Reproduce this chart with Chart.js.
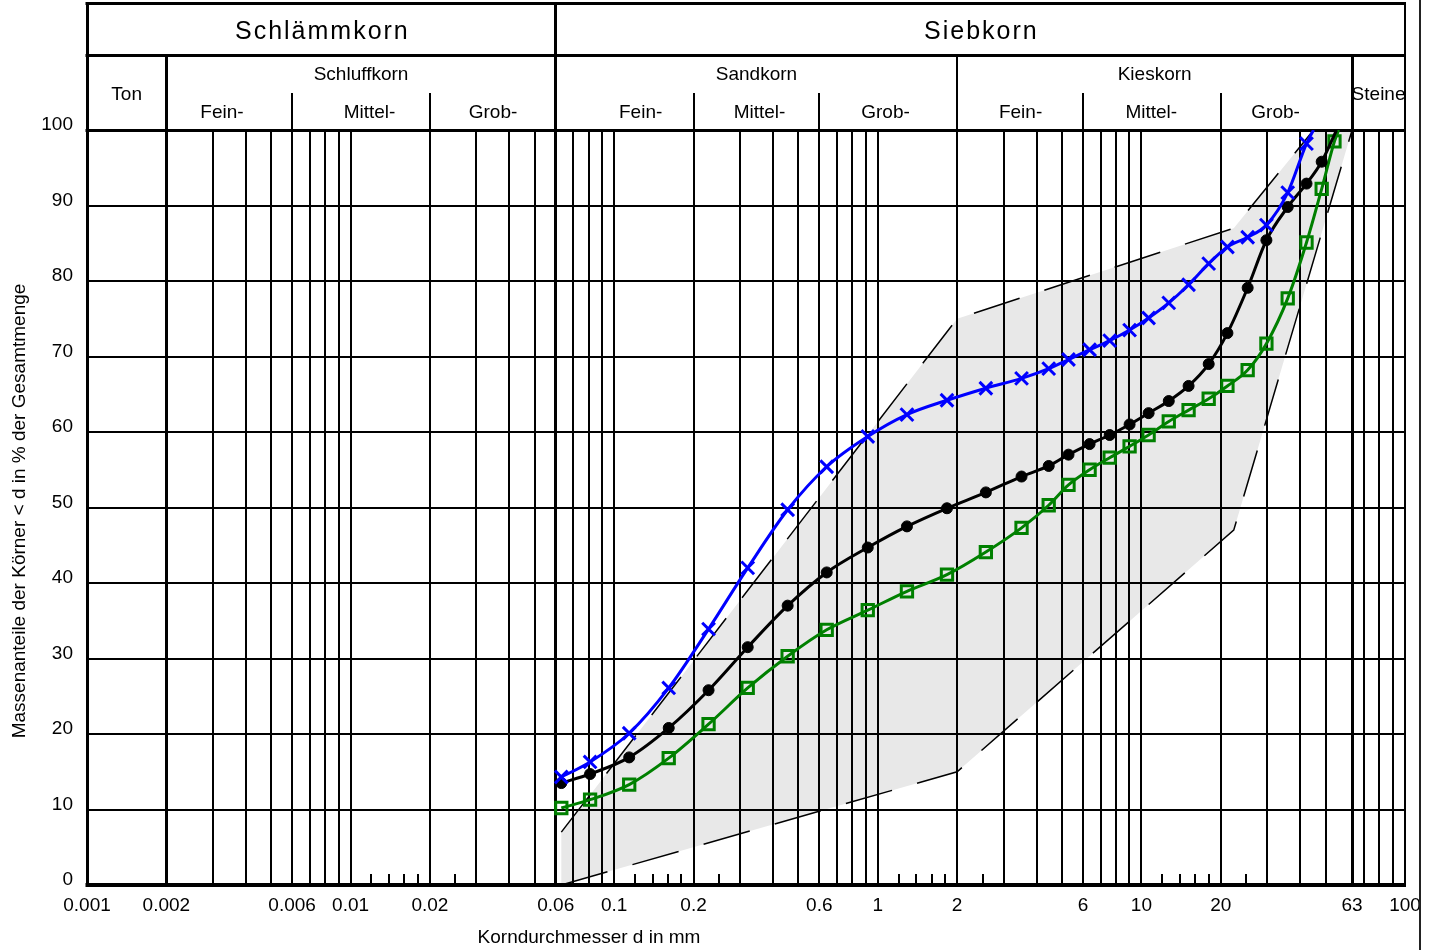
<!DOCTYPE html>
<html>
<head>
<meta charset="utf-8">
<title>Körnungslinie</title>
<script src="https://cdn.jsdelivr.net/npm/chart.js@4.4.1/dist/chart.umd.min.js"></script>
<style>
  html, body { margin: 0; padding: 0; background: #ffffff; }
  #wrap { position: relative; width: 1437px; height: 950px; }
  canvas { display: block; }
</style>
</head>
<body>
<div id="wrap"><canvas id="chart" width="1437" height="950"></canvas></div>
<script>
// ---- Sieve curves: grain size d in mm and percent passing ----
const grainBlue  = [0.063, 0.081, 0.114, 0.161, 0.228, 0.321, 0.455, 0.64, 0.916, 1.29, 1.83, 2.57, 3.51, 4.45, 5.29, 6.36, 7.58, 9.02, 10.65, 12.7, 15.1, 18.0, 21.2, 25.3, 29.8, 35.9, 42.3, 45.0];
const passBlue   = [14.3, 16.3, 20.1, 26.1, 33.9, 42.0, 49.7, 55.4, 59.4, 62.3, 64.2, 65.8, 67.1, 68.4, 69.6, 70.9, 72.1, 73.5, 75.1, 77.1, 79.5, 82.3, 84.5, 85.8, 87.4, 91.7, 98.2, 100];

const grainBlack = [0.063, 0.081, 0.114, 0.161, 0.228, 0.321, 0.455, 0.64, 0.916, 1.29, 1.83, 2.57, 3.51, 4.45, 5.29, 6.36, 7.58, 9.02, 10.65, 12.7, 15.1, 18.0, 21.2, 25.3, 29.8, 35.9, 42.3, 48.3, 55.0];
const passBlack  = [13.5, 14.7, 16.9, 20.8, 25.8, 31.5, 37.0, 41.4, 44.7, 47.5, 49.9, 52.0, 54.1, 55.5, 57.0, 58.4, 59.6, 61.0, 62.5, 64.1, 66.1, 69.0, 73.1, 79.1, 85.4, 89.8, 92.9, 95.8, 100];

const grainGreen = [0.063, 0.081, 0.114, 0.161, 0.228, 0.321, 0.455, 0.64, 0.916, 1.29, 1.83, 2.57, 3.51, 4.45, 5.29, 6.36, 7.58, 9.02, 10.65, 12.7, 15.1, 18.0, 21.2, 25.3, 29.8, 35.9, 42.3, 48.3, 54.0, 56.0];
const passGreen  = [10.2, 11.3, 13.3, 16.8, 21.3, 26.1, 30.3, 33.8, 36.4, 38.9, 41.1, 44.1, 47.3, 50.3, 53.0, 55.0, 56.6, 58.1, 59.6, 61.4, 62.9, 64.4, 66.1, 68.2, 71.7, 77.7, 85.1, 92.2, 98.5, 100];

// ---- Grading envelope (lower and upper limit) ----
const envLowerMm  = [0.063, 2, 22.4, 63];
const envLowerPct = [0, 15, 47, 100];
const envUpperMm  = [0.063, 2, 22.4, 45];
const envUpperPct = [7, 75, 87, 100];

// ---- Axis ticks ----
const xTickValues = [0.001, 0.002, 0.006, 0.01, 0.02, 0.06, 0.1, 0.2, 0.6, 1, 2, 6, 10, 20, 63, 100];
const xTickLabels = ['0.001', '0.002', '0.006', '0.01', '0.02', '0.06', '0.1', '0.2', '0.6', '1', '2', '6', '10', '20', '63', '100'];
const yTickValues = [0, 10, 20, 30, 40, 50, 60, 70, 80, 90, 100];

// ---- Grid of the grading chart ----
const gridLinesMm = [
  0.002, 0.003, 0.004, 0.005, 0.006, 0.007, 0.008, 0.009,
  0.01, 0.02, 0.03, 0.04, 0.05, 0.06, 0.07, 0.08, 0.09,
  0.1, 0.2, 0.3, 0.4, 0.5, 0.6, 0.7, 0.8, 0.9,
  1, 2, 3, 4, 5, 6, 7, 8, 9,
  10, 20, 30, 40, 50, 63, 70, 80, 90
];
const gridShortMm = [
  0.012, 0.014, 0.016, 0.018, 0.025,
  0.12, 0.14, 0.16, 0.18, 0.25,
  1.2, 1.4, 1.6, 1.8, 2.5,
  12, 14, 16, 18, 25
];
const gridMainMm = [0.002, 0.06, 63];
const gridPct = [10, 20, 30, 40, 50, 60, 70, 80, 90];

// ---- Soil classification header (DIN 4022) ----
const headerGroups = [
  { text: 'Schlämmkorn', from: 0.001, to: 0.06 },
  { text: 'Siebkorn', from: 0.06, to: 100 }
];
const headerClasses = [
  { text: 'Ton', from: 0.001, to: 0.002, row: 'mid' },
  { text: 'Schluffkorn', from: 0.002, to: 0.06, row: 'upper' },
  { text: 'Sandkorn', from: 0.06, to: 2, row: 'upper' },
  { text: 'Kieskorn', from: 2, to: 63, row: 'upper' },
  { text: 'Steine', from: 63, to: 100, row: 'mid' }
];
const headerSubclasses = [
  { text: 'Fein-', at: 0.00325 }, { text: 'Mittel-', at: 0.0118 }, { text: 'Grob-', at: 0.0347 },
  { text: 'Fein-', at: 0.126 },   { text: 'Mittel-', at: 0.356 },  { text: 'Grob-', at: 1.07 },
  { text: 'Fein-', at: 3.48 },    { text: 'Mittel-', at: 10.9 },   { text: 'Grob-', at: 32.3 }
];
const subDividersMm = [0.006, 0.02, 0.2, 0.6, 6, 20];

const FONT = "'Liberation Sans', Arial, Helvetica, sans-serif";

const pts = (xs, ys) => xs.map((v, i) => ({ x: v, y: ys[i] }));

// closed outline of the envelope: along the lower limit, back along the upper limit
const envelopeShape = pts(envLowerMm, envLowerPct).concat(pts(envUpperMm, envUpperPct).reverse());

// snap a coordinate so that a line of width w is drawn crisp
const crisp = (p, w) => (Math.round(w) % 2 === 1 ? Math.floor(p) + 0.5 : Math.round(p));

// grid drawn right after the shaded envelope, below all curves
const gridPlugin = {
  id: 'gradingGrid',
  afterDatasetDraw(chart, args) {
    if (args.index !== 0) return;
    const { ctx, chartArea: a, scales: { x, y } } = chart;
    ctx.save();
    ctx.strokeStyle = '#000';
    ctx.lineCap = 'butt';
    const seg = (x1, y1, x2, y2, w) => {
      ctx.lineWidth = w;
      ctx.beginPath(); ctx.moveTo(x1, y1); ctx.lineTo(x2, y2); ctx.stroke();
    };
    gridPct.forEach(p => { const py = crisp(y.getPixelForValue(p), 2); seg(a.left, py, a.right, py, 2); });
    gridLinesMm.forEach(v => {
      const w = gridMainMm.includes(v) ? 3 : 2;
      const px = crisp(x.getPixelForValue(v), w);
      seg(px, a.top, px, a.bottom, w);
    });
    gridShortMm.forEach(v => {
      const px = crisp(x.getPixelForValue(v), 2);
      seg(px, a.bottom - 11, px, a.bottom, 2);
    });
    // frame of the plot area
    seg(crisp(a.left, 3), a.top - 1, crisp(a.left, 3), a.bottom + 2, 3);
    seg(crisp(a.right, 2), a.top - 1, crisp(a.right, 2), a.bottom + 2, 2);
    seg(a.left - 1.5, crisp(a.top, 3), a.right + 1, crisp(a.top, 3), 3);
    seg(a.left - 1.5, a.bottom, a.right + 1, a.bottom, 4);
    ctx.restore();
  }
};

// classification header above the plot and axis titles
const headerPlugin = {
  id: 'gradingHeader',
  afterDraw(chart) {
    const { ctx, chartArea: a, scales: { x } } = chart;
    const top = 3, mid = 55, sub = 93;
    const px = v => x.getPixelForValue(v);
    ctx.save();
    ctx.strokeStyle = '#000';
    ctx.fillStyle = '#000';
    const seg = (x1, y1, x2, y2, w) => {
      ctx.lineWidth = w;
      ctx.beginPath(); ctx.moveTo(x1, y1); ctx.lineTo(x2, y2); ctx.stroke();
    };
    const vline = (v, y1, y2, w) => { const p = crisp(px(v), w); seg(p, y1, p, y2, w); };
    // outer box and rows
    seg(a.left - 1.5, crisp(top, 3), a.right + 1, crisp(top, 3), 3);
    seg(a.left - 1.5, crisp(mid, 3), a.right + 1, crisp(mid, 3), 3);
    vline(0.001, top, a.top, 3);
    vline(100, top, a.top, 2);
    vline(0.06, top, a.top, 3);
    vline(0.002, mid, a.top, 3);
    vline(2, mid, a.top, 2);
    vline(63, mid, a.top, 3);
    subDividersMm.forEach(v => vline(v, sub, a.top, 2));

    ctx.textAlign = 'center';
    ctx.textBaseline = 'middle';
    ctx.font = '25px ' + FONT;
    ctx.letterSpacing = '2px';
    headerGroups.forEach(g => ctx.fillText(g.text, (px(g.from) + px(g.to)) / 2 + 1, 32));
    ctx.letterSpacing = '0px';
    ctx.font = '19px ' + FONT;
    headerClasses.forEach(c => ctx.fillText(c.text, (px(c.from) + px(c.to)) / 2, c.row === 'upper' ? 75 : 95));
    headerSubclasses.forEach(s => ctx.fillText(s.text, px(s.at), 113));

    // axis titles
    ctx.fillText('Korndurchmesser d in mm', 589, 938);
    ctx.translate(20, 511);
    ctx.rotate(-Math.PI / 2);
    ctx.fillText('Massenanteile der Körner < d in % der Gesamtmenge', 0, 0);
    ctx.restore();

    // border line at the right edge of the sheet
    ctx.save();
    ctx.strokeStyle = '#222';
    ctx.lineWidth = 2;
    ctx.beginPath(); ctx.moveTo(1420, 0); ctx.lineTo(1420, 950); ctx.stroke();
    ctx.restore();
  }
};

const curve = (data, color, style, radius, borderW, fill) => ({
  data,
  borderColor: color,
  borderWidth: 3,
  cubicInterpolationMode: 'monotone',
  fill: false,
  pointStyle: style,
  pointRadius: ctx => (ctx.dataIndex === data.length - 1 ? 0 : radius),
  pointBorderColor: color,
  pointBackgroundColor: fill,
  pointBorderWidth: borderW
});

new Chart(document.getElementById('chart'), {
  type: 'line',
  data: {
    datasets: [
      {
        data: envelopeShape,
        fill: 'shape',
        backgroundColor: '#e8e8e8',
        borderWidth: 0,
        borderColor: 'rgba(0,0,0,0)',
        pointRadius: 0,
        tension: 0,
        order: 10
      },
      {
        data: pts(envLowerMm, envLowerPct),
        borderColor: '#000', borderWidth: 1.5, borderDash: [48, 26],
        pointRadius: 0, tension: 0, fill: false, order: 8
      },
      {
        data: pts(envUpperMm, envUpperPct),
        borderColor: '#000', borderWidth: 1.5, borderDash: [48, 26],
        pointRadius: 0, tension: 0, fill: false, order: 8
      },
      Object.assign(curve(pts(grainGreen, passGreen), '#008000', 'rect', 8, 3, 'rgba(0,0,0,0)'), { order: 3 }),
      Object.assign(curve(pts(grainBlack, passBlack), '#000000', 'circle', 5.5, 1, '#000000'), { order: 2 }),
      Object.assign(curve(pts(grainBlue, passBlue), '#0000ff', 'crossRot', 9, 3, '#0000ff'), { order: 1 })
    ]
  },
  options: {
    responsive: false,
    animation: false,
    events: [],
    devicePixelRatio: 1,
    layout: { padding: { left: 0, top: 130, right: 32, bottom: 0 } },
    plugins: { legend: { display: false }, tooltip: { enabled: false } },
    scales: {
      x: {
        type: 'logarithmic',
        min: 0.001,
        max: 100,
        grid: { display: false, drawTicks: false },
        border: { display: false },
        afterBuildTicks: scale => { scale.ticks = xTickValues.map(v => ({ value: v })); },
        afterFit: scale => { scale.height = 65; },
        ticks: {
          autoSkip: false,
          maxRotation: 0,
          minRotation: 0,
          padding: 9,
          color: '#000',
          font: { family: FONT, size: 19 },
          callback: (value, index) => xTickLabels[index]
        }
      },
      y: {
        type: 'linear',
        min: 0,
        max: 100,
        grid: { display: false, drawTicks: false },
        border: { display: false },
        afterBuildTicks: scale => { scale.ticks = yTickValues.map(v => ({ value: v })); },
        afterFit: scale => { scale.width = 87; },
        ticks: {
          padding: 14,
          labelOffset: -5,
          color: '#000',
          font: { family: FONT, size: 19 }
        }
      }
    }
  },
  plugins: [gridPlugin, headerPlugin]
});
</script>
</body>
</html>
